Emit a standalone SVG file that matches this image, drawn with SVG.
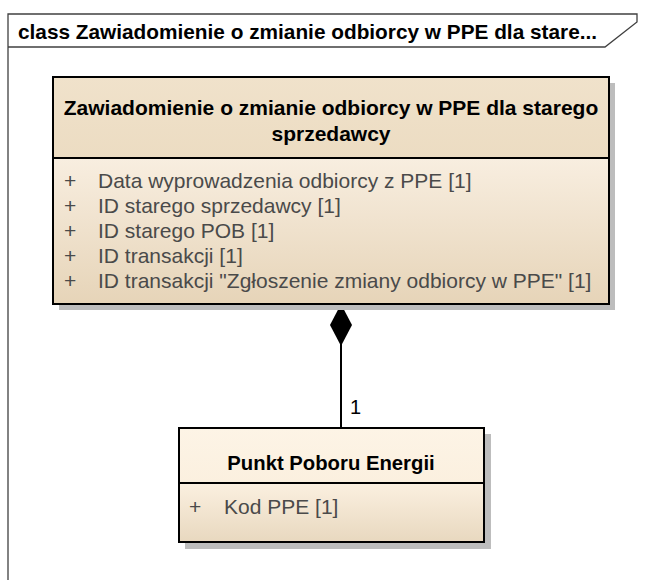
<svg xmlns="http://www.w3.org/2000/svg" width="645" height="580" viewBox="0 0 645 580">
<defs>
<linearGradient id="gHead1" x1="0" y1="0" x2="0" y2="1"><stop offset="0" stop-color="#f0e2cb"/><stop offset="1" stop-color="#ecdcc2"/></linearGradient>
<linearGradient id="gBody1" x1="0" y1="0" x2="0" y2="1"><stop offset="0" stop-color="#f8eee0"/><stop offset="1" stop-color="#e6d4b8"/></linearGradient>
<linearGradient id="gHead2" x1="0" y1="0" x2="0" y2="1"><stop offset="0" stop-color="#fdf4e6"/><stop offset="1" stop-color="#fbf0df"/></linearGradient>
<linearGradient id="gBody2" x1="0" y1="0" x2="0" y2="1"><stop offset="0" stop-color="#fbf0e0"/><stop offset="1" stop-color="#e8d8bf"/></linearGradient>
</defs>
<style>
.frame{fill:none;stroke:#404040;stroke-width:1.3}
.shadow{fill:#bdbdbd}
.border{fill:none;stroke:#000;stroke-width:2}
.title{font-family:"Liberation Sans",Arial,sans-serif;font-weight:bold;font-size:21px;fill:#000;text-anchor:middle}
.title2{font-family:"Liberation Sans",Arial,sans-serif;font-weight:bold;font-size:20.3px;fill:#000;text-anchor:middle}
.ftitle{font-family:"Liberation Sans",Arial,sans-serif;font-weight:bold;font-size:20.8px;fill:#000}
.attr{font-family:"Liberation Sans",Arial,sans-serif;font-size:21px;fill:#4a4a4a}
.lbl{font-family:"Liberation Sans",Arial,sans-serif;font-size:20px;fill:#000}
.conn{stroke:#000;stroke-width:2;fill:none}
</style>
<g id="frame">
<path class="frame" d="M8,580 V14 H637 V22 L605,47 H8"/>
<text class="ftitle" x="18" y="39">class Zawiadomienie o zmianie odbiorcy w PPE dla stare...</text>
</g>
<g id="connectors">
<line class="conn" x1="341" y1="344" x2="341" y2="428"/>
<path d="M341,304 L352,325 L341,346 L330,325 Z" fill="#000"/>
<text class="lbl" x="350" y="414">1</text>
</g>
<g id="class-zawiadomienie">
<rect class="shadow" x="59" y="83" width="556" height="227"/>
<rect x="53" y="77" width="556" height="81" fill="url(#gHead1)"/>
<rect x="53" y="158" width="556" height="146" fill="url(#gBody1)"/>
<rect class="border" x="53" y="77" width="556" height="227"/>
<line x1="53" y1="158" x2="609" y2="158" stroke="#000" stroke-width="2"/>
<text class="title" x="331" y="115">Zawiadomienie o zmianie odbiorcy w PPE dla starego</text>
<text class="title" x="331" y="141">sprzedawcy</text>
<text class="attr" x="64" y="188">+</text><text class="attr" x="98" y="188">Data wyprowadzenia odbiorcy z PPE [1]</text>
<text class="attr" x="64" y="213">+</text><text class="attr" x="98" y="213">ID starego sprzedawcy [1]</text>
<text class="attr" x="64" y="238">+</text><text class="attr" x="98" y="238">ID starego POB [1]</text>
<text class="attr" x="64" y="263">+</text><text class="attr" x="98" y="263">ID transakcji [1]</text>
<text class="attr" x="64" y="288">+</text><text class="attr" x="98" y="288">ID transakcji "Zgłoszenie zmiany odbiorcy w PPE" [1]</text>
</g>
<g id="class-ppe">
<rect class="shadow" x="185" y="434" width="306" height="115"/>
<rect x="179" y="428" width="305" height="55" fill="url(#gHead2)"/>
<rect x="179" y="483" width="305" height="59" fill="url(#gBody2)"/>
<rect class="border" x="179" y="428" width="305" height="114"/>
<line x1="179" y1="483" x2="484" y2="483" stroke="#000" stroke-width="2"/>
<text class="title2" x="331" y="470">Punkt Poboru Energii</text>
<text class="attr" x="189" y="514">+</text><text class="attr" x="224" y="514">Kod PPE [1]</text>
</g>
</svg>
